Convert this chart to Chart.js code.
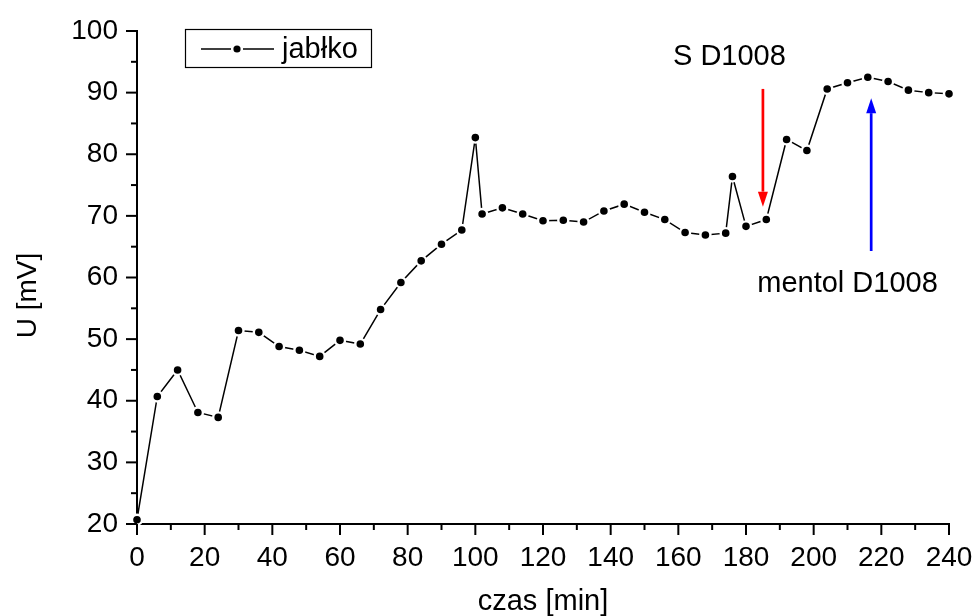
<!DOCTYPE html>
<html>
<head>
<meta charset="utf-8">
<script src="https://cdn.jsdelivr.net/npm/chart.js@4/dist/chart.umd.min.js"></script>
<style>
body { margin: 0; background: #fff; }
#wrap { width: 977px; height: 616px; }
</style>
</head>
<body>
<div id="wrap"><canvas id="napiecie" width="977" height="616"></canvas></div>
<script>
// czas pomiaru [min]
var czas = [0, 6, 12, 18, 24, 30, 36, 42, 48, 54, 60, 66, 72, 78, 84, 90, 96, 100, 102, 108,
    114, 120, 126, 132, 138, 144, 150, 156, 162, 168, 174, 176, 180, 186, 192, 198, 204, 210,
    216, 222, 228, 234, 240];
// napiecie [mV]
var jablko = [20.7, 40.7, 45.0, 38.1, 37.3, 51.4, 51.1, 48.8, 48.2, 47.2, 49.8, 49.2, 54.8, 59.2,
    62.7, 65.4, 67.7, 82.7, 70.3, 71.3, 70.3, 69.2, 69.3, 69.0, 70.8, 71.9, 70.6, 69.4, 67.3, 66.9,
    67.2, 76.4, 68.3, 69.4, 82.4, 80.6, 90.6, 91.6, 92.5, 91.8, 90.4, 90.0, 89.8];

var seriaNazwa = "jabłko";
var osX = "czas [min]";
var osY = "U [mV]";

// strzalki: x, poczatek, koniec (w jednostkach wykresu)
var strzalkaS = { x: 185, od: 90.6, do: 71.5 };
var strzalkaMentol = { x: 217, od: 64.3, do: 89.1 };
var napisS = { tekst: "S D1008", x: 175.1, y: 95.8 };
var napisMentol = { tekst: "mentol D1008", x: 210.0, y: 59.0 };

var FONT = "Liberation Sans, Arial, sans-serif";
Chart.defaults.font.family = FONT;
Chart.defaults.color = "#000";

var punkty = czas.map(function (t, i) { return { x: t, y: jablko[i] }; });

function strzalka(ctx, sx, sy, px, py, kolor) {
    var kier = py > sy ? 1 : -1;
    var dl = 15, szer = 5;
    ctx.save();
    ctx.strokeStyle = kolor;
    ctx.fillStyle = kolor;
    ctx.lineWidth = 2.7;
    ctx.beginPath();
    ctx.moveTo(sx, sy);
    ctx.lineTo(px, py - kier * dl);
    ctx.stroke();
    ctx.beginPath();
    ctx.moveTo(px, py);
    ctx.lineTo(px - szer, py - kier * dl);
    ctx.lineTo(px + szer, py - kier * dl);
    ctx.closePath();
    ctx.fill();
    ctx.restore();
}

function bezMarginesu(s) {
    s.paddingLeft = 0;
    s.paddingRight = 0;
    s.paddingTop = 0;
    s.paddingBottom = 0;
}

var dodatki = {
    id: "dodatki",
    afterDraw: function (chart) {
        var ctx = chart.ctx;
        var sx = chart.scales.x, sy = chart.scales.y;
        var area = chart.chartArea;
        ctx.save();
        ctx.strokeStyle = "#000";
        ctx.lineWidth = 2;
        // podzialki na zewnatrz
        sx.ticks.forEach(function (t) {
            var p = sx.getPixelForValue(t.value);
            var d = t.value % 20 === 0 ? 11 : 6;
            ctx.beginPath();
            ctx.moveTo(p, area.bottom);
            ctx.lineTo(p, area.bottom + d);
            ctx.stroke();
        });
        sy.ticks.forEach(function (t) {
            var p = sy.getPixelForValue(t.value);
            var d = t.value % 10 === 0 ? 11 : 6;
            ctx.beginPath();
            ctx.moveTo(area.left, p);
            ctx.lineTo(area.left - d, p);
            ctx.stroke();
        });

        // tytul osi Y
        ctx.fillStyle = "#000";
        ctx.font = "28px " + FONT;
        ctx.textAlign = "center";
        ctx.textBaseline = "middle";
        ctx.translate(28, (area.top + area.bottom) / 2 + 18);
        ctx.rotate(-Math.PI / 2);
        ctx.fillText(osY, 0, 0);
        ctx.restore();

        // legenda
        ctx.save();
        var lx = area.left + 48, ly = area.top - 2;
        ctx.strokeStyle = "#000";
        ctx.lineWidth = 1.2;
        ctx.strokeRect(lx + 0.5, ly + 0.5, 186, 38);
        var my = ly + 20;
        ctx.lineWidth = 1.5;
        ctx.beginPath();
        ctx.moveTo(lx + 16, my);
        ctx.lineTo(lx + 46, my);
        ctx.moveTo(lx + 58, my);
        ctx.lineTo(lx + 89, my);
        ctx.stroke();
        ctx.fillStyle = "#000";
        ctx.beginPath();
        ctx.arc(lx + 52, my, 3.6, 0, Math.PI * 2);
        ctx.fill();
        ctx.font = "29px " + FONT;
        ctx.textAlign = "left";
        ctx.textBaseline = "middle";
        ctx.fillText(seriaNazwa, lx + 97, my + 1);
        ctx.restore();

        // strzalki i opisy
        strzalka(ctx, sx.getPixelForValue(strzalkaS.x), sy.getPixelForValue(strzalkaS.od),
            sx.getPixelForValue(strzalkaS.x), sy.getPixelForValue(strzalkaS.do), "#ff0000");
        strzalka(ctx, sx.getPixelForValue(strzalkaMentol.x), sy.getPixelForValue(strzalkaMentol.od),
            sx.getPixelForValue(strzalkaMentol.x), sy.getPixelForValue(strzalkaMentol.do), "#0000ff");
        ctx.save();
        ctx.fillStyle = "#000";
        ctx.font = "29px " + FONT;
        ctx.textAlign = "center";
        ctx.textBaseline = "middle";
        ctx.fillText(napisS.tekst, sx.getPixelForValue(napisS.x), sy.getPixelForValue(napisS.y));
        ctx.fillText(napisMentol.tekst, sx.getPixelForValue(napisMentol.x), sy.getPixelForValue(napisMentol.y));
        ctx.restore();
    }
};

var chart = new Chart("napiecie", {
    type: "scatter",
    data: {
        datasets: [{
            label: seriaNazwa,
            data: punkty,
            showLine: true,
            borderColor: "#000",
            borderWidth: 1.5,
            pointRadius: 5,
            pointBackgroundColor: "#000",
            pointBorderColor: "#fff",
            pointBorderWidth: 2.4,
            clip: false
        }]
    },
    options: {
        responsive: false,
        animation: false,
        layout: { padding: { top: 31, right: 28, left: 0, bottom: 0 } },
        plugins: { legend: { display: false }, tooltip: { enabled: false } },
        scales: {
            x: {
                type: "linear",
                min: 0,
                max: 240,
                grid: { drawOnChartArea: false, drawTicks: false },
                border: { display: true, color: "#000", width: 2 },
                ticks: {
                    stepSize: 10,
                    autoSkip: false,
                    maxRotation: 0,
                    padding: 17,
                    font: { size: 28 },
                    callback: function (v) { return v % 20 === 0 ? v : ""; }
                },
                title: { display: true, text: osX, font: { size: 29, lineHeight: 1 }, padding: { top: 0, bottom: 0 } },
                afterFit: function (s) { s.height = 92; bezMarginesu(s); }
            },
            y: {
                min: 20,
                max: 100,
                grid: { drawOnChartArea: false, drawTicks: false },
                border: { display: true, color: "#000", width: 2 },
                ticks: {
                    stepSize: 5,
                    autoSkip: false,
                    padding: 19,
                    font: { size: 28 },
                    callback: function (v) { return v % 10 === 0 ? v : ""; }
                },
                afterFit: function (s) { s.width = 137; bezMarginesu(s); }
            }
        }
    },
    plugins: [dodatki]
});
</script>
</body>
</html>
